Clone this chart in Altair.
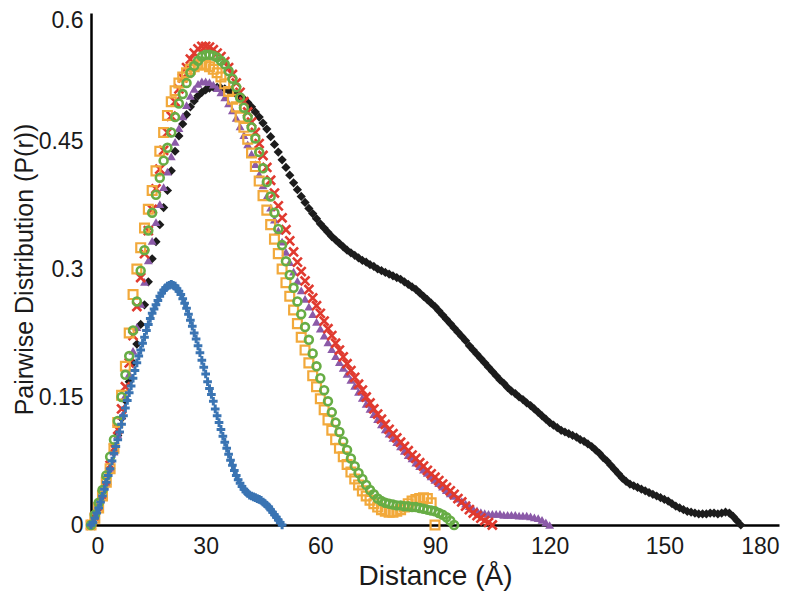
import altair as alt
import pandas as pd

# Pairwise distance distributions P(r); r sampled every STEP Å starting at 0
BLUE_STEP = 0.5
BLUE_P = [0, 0.003, 0.008, 0.014, 0.02, 0.027, 0.034, 0.042, 0.05, 0.058,
          0.066, 0.075, 0.084, 0.092, 0.1, 0.109, 0.118, 0.128, 0.137, 0.146,
          0.155, 0.163, 0.172, 0.181, 0.19, 0.198, 0.205, 0.213, 0.22, 0.228,
          0.235, 0.242, 0.248, 0.253, 0.258, 0.263, 0.268, 0.272, 0.275, 0.278,
          0.28, 0.281, 0.282, 0.281, 0.28, 0.277, 0.274, 0.27, 0.265, 0.26,
          0.254, 0.247, 0.24, 0.233, 0.225, 0.218, 0.21, 0.202, 0.193, 0.185,
          0.177, 0.168, 0.16, 0.153, 0.145, 0.136, 0.128, 0.12, 0.112, 0.104,
          0.097, 0.09, 0.083, 0.076, 0.07, 0.064, 0.058, 0.053, 0.049, 0.045,
          0.042, 0.039, 0.037, 0.035, 0.034, 0.033, 0.032, 0.031, 0.03, 0.029,
          0.027, 0.025, 0.023, 0.021, 0.018, 0.015, 0.012, 0.009, 0.006, 0.003,
          0]

ORANGE_STEP = 1
ORANGE_P = [0, 0.008, 0.02, 0.034, 0.05, 0.066, 0.09, 0.12, 0.152, 0.186,
            0.225, 0.27, 0.3, 0.325, 0.348, 0.37, 0.392, 0.415, 0.438, 0.46,
            0.48, 0.496, 0.509, 0.518, 0.525, 0.53, 0.534, 0.537, 0.539, 0.54,
            0.539, 0.537, 0.534, 0.53, 0.525, 0.517, 0.508, 0.499, 0.49, 0.478,
            0.466, 0.452, 0.436, 0.42, 0.403, 0.386, 0.369, 0.352, 0.335, 0.318,
            0.3, 0.284, 0.268, 0.252, 0.236, 0.22, 0.205, 0.19, 0.175, 0.162,
            0.148, 0.135, 0.123, 0.111, 0.1, 0.09, 0.08, 0.071, 0.062, 0.054,
            0.047, 0.04, 0.034, 0.029, 0.025, 0.021, 0.018, 0.016, 0.015, 0.015,
            0.016, 0.018, 0.021, 0.025, 0.028, 0.03, 0.031, 0.032, 0.031, 0.026,
            0]

GREEN_STEP = 1
GREEN_P = [0, 0.012, 0.026, 0.041, 0.058, 0.08, 0.1, 0.122, 0.15, 0.176,
           0.198, 0.228, 0.262, 0.298, 0.322, 0.345, 0.366, 0.387, 0.407, 0.427,
           0.442, 0.46, 0.478, 0.494, 0.505, 0.518, 0.53, 0.538, 0.544, 0.549,
           0.551, 0.551, 0.55, 0.548, 0.544, 0.54, 0.532, 0.523, 0.513, 0.501,
           0.489, 0.478, 0.466, 0.453, 0.437, 0.418, 0.402, 0.385, 0.366, 0.347,
           0.328, 0.309, 0.293, 0.278, 0.262, 0.247, 0.232, 0.217, 0.201, 0.186,
           0.172, 0.158, 0.145, 0.132, 0.12, 0.109, 0.098, 0.088, 0.078, 0.069,
           0.061, 0.054, 0.047, 0.041, 0.036, 0.031, 0.028, 0.026, 0.025, 0.024,
           0.023, 0.023, 0.022, 0.022, 0.021, 0.021, 0.02, 0.019, 0.018, 0.017,
           0.016, 0.014, 0.012, 0.009, 0.005, 0]

RED_STEP = 1
RED_P = [0, 0.01, 0.022, 0.036, 0.052, 0.07, 0.09, 0.112, 0.136, 0.162,
         0.19, 0.222, 0.256, 0.29, 0.318, 0.345, 0.37, 0.394, 0.417, 0.439,
         0.46, 0.479, 0.496, 0.511, 0.524, 0.536, 0.546, 0.553, 0.558, 0.561,
         0.561, 0.56, 0.557, 0.553, 0.549, 0.543, 0.536, 0.528, 0.518, 0.507,
         0.496, 0.484, 0.472, 0.46, 0.447, 0.433, 0.419, 0.404, 0.389, 0.374,
         0.36, 0.346, 0.333, 0.32, 0.308, 0.297, 0.286, 0.276, 0.266, 0.257,
         0.248, 0.239, 0.23, 0.222, 0.213, 0.205, 0.197, 0.189, 0.181, 0.173,
         0.165, 0.158, 0.15, 0.143, 0.136, 0.13, 0.124, 0.118, 0.112, 0.107,
         0.102, 0.097, 0.092, 0.087, 0.082, 0.078, 0.073, 0.069, 0.064, 0.06,
         0.056, 0.052, 0.048, 0.044, 0.04, 0.036, 0.031, 0.027, 0.022, 0.018,
         0.014, 0.011, 0.008, 0.005, 0.003, 0]

PURPLE_STEP = 1
PURPLE_P = [0, 0.01, 0.022, 0.035, 0.05, 0.067, 0.086, 0.106, 0.128, 0.152,
            0.177, 0.204, 0.232, 0.259, 0.285, 0.31, 0.333, 0.355, 0.376, 0.396,
            0.414, 0.432, 0.449, 0.465, 0.479, 0.492, 0.503, 0.511, 0.517, 0.52,
            0.52, 0.519, 0.516, 0.512, 0.507, 0.501, 0.494, 0.486, 0.477, 0.467,
            0.457, 0.446, 0.435, 0.423, 0.411, 0.398, 0.385, 0.372, 0.358, 0.345,
            0.332, 0.32, 0.308, 0.297, 0.286, 0.275, 0.265, 0.256, 0.247, 0.238,
            0.23, 0.222, 0.214, 0.206, 0.198, 0.191, 0.184, 0.177, 0.17, 0.163,
            0.156, 0.149, 0.142, 0.136, 0.13, 0.124, 0.118, 0.112, 0.107, 0.102,
            0.097, 0.092, 0.087, 0.082, 0.078, 0.073, 0.069, 0.065, 0.061, 0.057,
            0.053, 0.049, 0.045, 0.041, 0.037, 0.034, 0.031, 0.028, 0.025, 0.022,
            0.019, 0.017, 0.015, 0.014, 0.013, 0.013, 0.013, 0.013, 0.012, 0.012,
            0.012, 0.012, 0.011, 0.011, 0.011, 0.01, 0.009, 0.008, 0.006, 0.003,
            0]

BLACK_STEP = 1
BLACK_P = [0, 0.009, 0.02, 0.033, 0.048, 0.066, 0.085, 0.105, 0.125, 0.146,
           0.168, 0.19, 0.212, 0.235, 0.258, 0.285, 0.312, 0.332, 0.352, 0.372,
           0.392, 0.415, 0.438, 0.456, 0.47, 0.481, 0.49, 0.497, 0.503, 0.507,
           0.51, 0.512, 0.513, 0.513, 0.512, 0.511, 0.509, 0.507, 0.505, 0.502,
           0.499, 0.495, 0.49, 0.484, 0.478, 0.471, 0.464, 0.455, 0.446, 0.437,
           0.428, 0.419, 0.41, 0.401, 0.393, 0.385, 0.378, 0.371, 0.365, 0.359,
           0.353, 0.348, 0.343, 0.338, 0.334, 0.33, 0.326, 0.322, 0.319, 0.316,
           0.313, 0.31, 0.308, 0.305, 0.303, 0.3, 0.298, 0.296, 0.294, 0.292,
           0.29, 0.288, 0.285, 0.282, 0.279, 0.276, 0.272, 0.268, 0.264, 0.26,
           0.256, 0.251, 0.246, 0.241, 0.236, 0.231, 0.226, 0.221, 0.216, 0.21,
           0.205, 0.2, 0.195, 0.19, 0.185, 0.18, 0.175, 0.17, 0.166, 0.161,
           0.157, 0.154, 0.15, 0.147, 0.143, 0.14, 0.136, 0.132, 0.128, 0.124,
           0.12, 0.117, 0.114, 0.111, 0.109, 0.107, 0.105, 0.103, 0.1, 0.098,
           0.095, 0.092, 0.088, 0.084, 0.079, 0.075, 0.07, 0.065, 0.06, 0.055,
           0.051, 0.048, 0.046, 0.044, 0.042, 0.04, 0.038, 0.036, 0.034, 0.032,
           0.03, 0.028, 0.025, 0.022, 0.02, 0.018, 0.016, 0.015, 0.014, 0.013,
           0.013, 0.013, 0.014, 0.014, 0.013, 0.014, 0.015, 0.014, 0.01, 0.005,
           0]

X_TICKS = [0, 30, 60, 90, 120, 150, 180]
Y_TICKS = [0, 0.15, 0.3, 0.45, 0.6]


def frame(step, values):
    return pd.DataFrame({"r": [i * step for i in range(len(values))], "p": values})


x_enc = alt.X("r:Q", scale=alt.Scale(domain=[0, 180], nice=False),
              axis=alt.Axis(values=X_TICKS, title="Distance (Å)",
                            labelPadding=10, titlePadding=4, titleFontSize=28))
y_enc = alt.Y("p:Q", scale=alt.Scale(domain=[0, 0.6], nice=False),
              axis=alt.Axis(values=Y_TICKS, labelExpr="'' + datum.value",
                            labelOffset={"condition": {"test": "datum.value >= 0.6", "value": 7},
                                         "value": 0},
                            labelPadding=8, titlePadding=1, titleFontSize=25,
                            title="Pairwise Distribution (P(r))"))

black = alt.Chart(frame(BLACK_STEP, BLACK_P)).mark_point(
    shape="diamond", filled=True, color="#1c1c1c", size=85, opacity=1
).encode(x=x_enc, y=y_enc)

purple = alt.Chart(frame(PURPLE_STEP, PURPLE_P)).mark_point(
    shape="triangle-up", filled=True, color="#8b5aa8", size=80, opacity=1
).encode(x=x_enc, y=y_enc)

red = alt.Chart(frame(RED_STEP, RED_P)).mark_point(
    shape="M-1,-1L1,1M-1,1L1,-1", filled=False, color="#e03a2f",
    size=80, strokeWidth=2.6, opacity=1
).encode(x=x_enc, y=y_enc)

orange = alt.Chart(frame(ORANGE_STEP, ORANGE_P)).mark_point(
    shape="square", filled=False, color="#f2a93b", size=78, strokeWidth=2.2, opacity=1
).encode(x=x_enc, y=y_enc)

green = alt.Chart(frame(GREEN_STEP, GREEN_P)).mark_point(
    shape="circle", filled=False, color="#67ad45", size=62, strokeWidth=2.6, opacity=1
).encode(x=x_enc, y=y_enc)

blue = alt.Chart(frame(BLUE_STEP, BLUE_P)).mark_point(
    shape="M-1,0L1,0M0,-1L0,1", filled=False, color="#3a74b3",
    size=75, strokeWidth=3, opacity=1
).encode(x=x_enc, y=y_enc)

chart = alt.layer(black, purple, red, orange, green, blue).properties(
    width=688, height=512,
    autosize=alt.AutoSizeParams(type="none"),
    padding={"left": 83, "top": 5, "right": 10, "bottom": 70},
).configure_view(stroke=None).configure_axis(
    domainColor="#000000", domainWidth=2.5, ticks=False, grid=False,
    labelFont="Liberation Sans", labelFontSize=23, labelColor="#1a1a1a",
    titleFont="Liberation Sans", titleFontWeight="normal",
    titleColor="#1a1a1a",
)

chart.save("out.html", embed_options={"renderer": "svg", "actions": False})
